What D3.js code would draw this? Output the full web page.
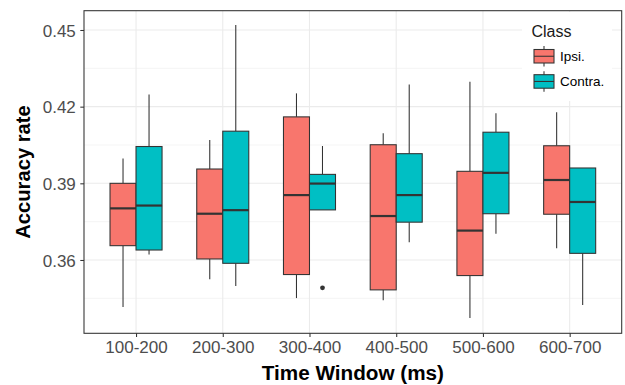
<!DOCTYPE html>
<html><head><meta charset="utf-8">
<script src="https://cdn.jsdelivr.net/npm/d3@7"></script>
<style>body{margin:0;background:#fff}svg{display:block;font-family:Arial,"Liberation Sans",sans-serif}</style>
</head><body><svg id="c" width="625" height="385"></svg>
<script>
const categories = ["100-200","200-300","300-400","400-500","500-600","600-700"];
const classes = ["Ipsi.","Contra."];
const colors = ["#F8766D","#00BFC4"];
// box stats per class: [lowWhisker, q1, median, q3, highWhisker]
const ipsiLow    = [0.3416,0.3525,0.3451,0.3442,0.3373,0.3646];
const ipsiQ1     = [0.3656,0.3604,0.3543,0.3483,0.3539,0.3779];
const ipsiMed    = [0.3802,0.3781,0.3854,0.3772,0.3715,0.3913];
const ipsiQ3     = [0.3900,0.3956,0.4160,0.4051,0.3947,0.4047];
const ipsiHigh   = [0.3997,0.4070,0.4252,0.4096,0.4297,0.4178];
const contraLow  = [0.3621,0.3498,0.3796,0.3669,0.3703,0.3424];
const contraQ1   = [0.3639,0.3587,0.3796,0.3748,0.3781,0.3626];
const contraMed  = [0.3813,0.3795,0.3899,0.3854,0.3941,0.3827];
const contraQ3   = [0.4044,0.4104,0.3935,0.4016,0.4100,0.3960];
const contraHigh = [0.4248,0.4520,0.4046,0.4287,0.4174,0.3960];
// outliers: [categoryIndex, classIndex, value]
const outliers = [[2,1,0.3491]];
const yTicks = [0.36,0.39,0.42,0.45];
const yMinor = [0.345,0.375,0.405,0.435];

const stats = [
  {low:ipsiLow,q1:ipsiQ1,med:ipsiMed,q3:ipsiQ3,high:ipsiHigh},
  {low:contraLow,q1:contraQ1,med:contraMed,q3:contraQ3,high:contraHigh}
];
const rows = [];
stats.forEach((s,ci)=>categories.forEach((c,i)=>rows.push({cat:c,ci,low:s.low[i],q1:s.q1[i],med:s.med[i],q3:s.q3[i],high:s.high[i]})));

const L=84, R=621.7, T=10.7, B=333.3;
const svg = d3.select("#c");
const x = d3.scalePoint().domain(categories).range([L,R]).padding(0.6);
const step = x.step();
const xs = d3.scaleBand().domain(d3.range(classes.length)).range([-0.3*step,0.3*step]);
const y = d3.scaleLinear().domain([0.33131,0.45755]).range([B,T]);

// grid
const g = svg.append("g");
g.selectAll(".mn").data(yMinor).join("line").attr("x1",L).attr("x2",R).attr("y1",d=>y(d)).attr("y2",d=>y(d)).attr("stroke","#EBEBEB").attr("stroke-width",0.55);
g.selectAll(".mj").data(yTicks).join("line").attr("x1",L).attr("x2",R).attr("y1",d=>y(d)).attr("y2",d=>y(d)).attr("stroke","#EBEBEB").attr("stroke-width",1.1);
g.selectAll(".vx").data(categories).join("line").attr("x1",d=>x(d)).attr("x2",d=>x(d)).attr("y1",T).attr("y2",B).attr("stroke","#EBEBEB").attr("stroke-width",1.1);

// boxes
const bw = xs.bandwidth();
const bx = svg.append("g").selectAll("g").data(rows).join("g");
bx.append("line").attr("x1",d=>x(d.cat)+xs(d.ci)+bw/2).attr("x2",d=>x(d.cat)+xs(d.ci)+bw/2)
  .attr("y1",d=>y(d.high)).attr("y2",d=>y(d.q3)).attr("stroke","#333").attr("stroke-width",1.07);
bx.append("line").attr("x1",d=>x(d.cat)+xs(d.ci)+bw/2).attr("x2",d=>x(d.cat)+xs(d.ci)+bw/2)
  .attr("y1",d=>y(d.q1)).attr("y2",d=>y(d.low)).attr("stroke","#333").attr("stroke-width",1.07);
bx.append("rect").attr("x",d=>x(d.cat)+xs(d.ci)).attr("width",bw)
  .attr("y",d=>y(d.q3)).attr("height",d=>y(d.q1)-y(d.q3))
  .attr("fill",d=>colors[d.ci]).attr("stroke","#333").attr("stroke-width",1.07);
bx.append("line").attr("x1",d=>x(d.cat)+xs(d.ci)).attr("x2",d=>x(d.cat)+xs(d.ci)+bw)
  .attr("y1",d=>y(d.med)).attr("y2",d=>y(d.med)).attr("stroke","#333").attr("stroke-width",2.2);
svg.append("g").selectAll("circle").data(outliers).join("circle")
  .attr("cx",d=>x(categories[d[0]])+xs(d[1])+bw/2).attr("cy",d=>y(d[2])).attr("r",2.4).attr("fill","#333");

// legend
const lg = svg.append("g");
lg.append("rect").attr("x",522).attr("y",12).attr("width",90).attr("height",89).attr("fill","#fff");
lg.append("text").attr("x",531.5).attr("y",37).attr("font-size",16).attr("fill","#1a1a1a").text("Class");
classes.forEach((c,i)=>{
  const ky = 49.5 + i*25.2;
  const kx = 534, kw = 20, kh = 13.5, cx = kx+kw/2;
  lg.append("line").attr("x1",cx).attr("x2",cx).attr("y1",ky-3.5).attr("y2",ky+kh+3.5).attr("stroke","#333").attr("stroke-width",1.07);
  lg.append("rect").attr("x",kx).attr("y",ky).attr("width",kw).attr("height",kh).attr("fill",colors[i]).attr("stroke","#333").attr("stroke-width",1.07);
  lg.append("line").attr("x1",kx).attr("x2",kx+kw).attr("y1",ky+kh/2).attr("y2",ky+kh/2).attr("stroke","#333").attr("stroke-width",1.07);
  lg.append("text").attr("x",560).attr("y",ky+kh/2+4.8).attr("font-size",13.5).attr("fill","#000").text(c);
});

// panel border
svg.append("rect").attr("x",L).attr("y",T).attr("width",R-L).attr("height",B-T).attr("fill","none").attr("stroke","#333").attr("stroke-width",1.07);

// axes
const ya = svg.append("g").attr("transform",`translate(${L},0)`).call(d3.axisLeft(y).tickValues(yTicks).tickFormat(d3.format(".2f")).tickSize(3.7).tickPadding(4.5));
const xa = svg.append("g").attr("transform",`translate(0,${B})`).call(d3.axisBottom(x).tickSize(3.7).tickPadding(4));
[ya,xa].forEach(a=>{
  a.select(".domain").remove();
  a.selectAll(".tick line").attr("stroke","#333").attr("stroke-width",1.07);
  a.selectAll(".tick text").attr("fill","#4D4D4D").attr("font-size",17).attr("font-family","Arial, 'Liberation Sans', sans-serif");
});
ya.selectAll(".tick text").attr("dy","0.36em");

svg.append("text").attr("x",(L+R)/2).attr("y",380).attr("text-anchor","middle").attr("font-size",20.7).attr("font-weight","bold").attr("fill","#000").text("Time Window (ms)");
svg.append("text").attr("transform",`translate(30,${(T+B)/2}) rotate(-90)`).attr("text-anchor","middle").attr("font-size",20.2).attr("font-weight","bold").attr("fill","#000").text("Accuracy rate");
</script></body></html>
